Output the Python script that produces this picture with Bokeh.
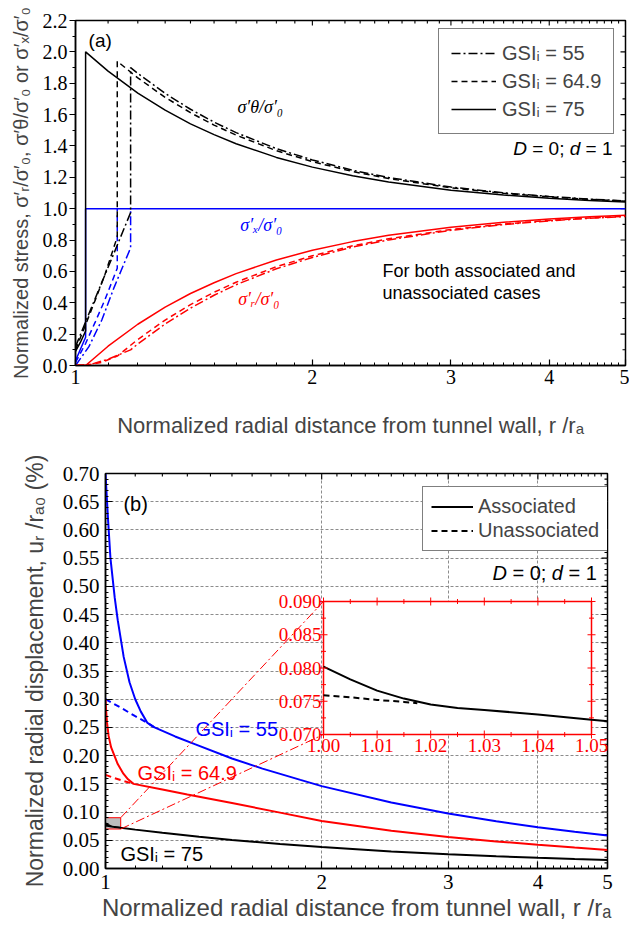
import numpy as np
from bokeh.plotting import figure
from bokeh.layouts import column
from bokeh.models import (FixedTicker, PrintfTickFormatter, Range1d, LinearScale,
                          Legend, LegendItem, Label, Arrow)
from bokeh.embed import file_html
from bokeh.resources import INLINE
from bokeh.core.properties import value

# ====================== DATA: panel (a) normalized stresses ======================
# GSI_i = 75 (solid)
A75_THETA_R = [1.0, 1.015, 1.03, 1.03, 1.1, 1.2, 1.3, 1.4, 1.5, 1.6, 1.8, 2.0, 2.25, 2.5, 3.0, 3.5, 4.0, 4.5, 5.0]
A75_THETA = [0.09, 0.15, 0.22, 2.00, 1.877, 1.737, 1.628, 1.541, 1.472, 1.414, 1.327, 1.265, 1.210, 1.170, 1.118, 1.087, 1.066, 1.052, 1.042]
A75_RAD_R = [1.0, 1.03, 1.1, 1.2, 1.3, 1.4, 1.5, 1.6, 1.8, 2.0, 2.25, 2.5, 3.0, 3.5, 4.0, 4.5, 5.0]
A75_RAD = [0.0, 0.0, 0.123, 0.263, 0.372, 0.459, 0.528, 0.586, 0.673, 0.735, 0.790, 0.830, 0.882, 0.913, 0.934, 0.948, 0.958]
A75_AX_R = [1.0, 1.03, 1.03, 5.0]
A75_AX = [0.03, 0.18, 1.0, 1.0]

# GSI_i = 64.9 (dashed)
A649_THETA_R = [1.0, 1.03, 1.06, 1.09, 1.13, 1.13, 1.2, 1.3, 1.4, 1.5, 1.6, 1.8, 2.0, 2.25, 2.5, 3.0, 3.5, 4.0, 4.5, 5.0]
A649_THETA = [0.10, 0.26, 0.42, 0.58, 0.82, 1.94, 1.834, 1.710, 1.612, 1.533, 1.469, 1.370, 1.300, 1.237, 1.192, 1.133, 1.098, 1.075, 1.059, 1.048]
A649_RAD_R = [1.0, 1.04, 1.08, 1.13, 1.2, 1.3, 1.4, 1.5, 1.6, 1.8, 2.0, 2.25, 2.5, 3.0, 3.5, 4.0, 4.5, 5.0]
A649_RAD = [0.0, 0.005, 0.02, 0.06, 0.166, 0.290, 0.388, 0.467, 0.531, 0.630, 0.700, 0.763, 0.808, 0.867, 0.902, 0.925, 0.941, 0.952]
A649_AX_R = [1.0, 1.03, 1.06, 1.09, 1.13, 1.13]
A649_AX = [0.02, 0.14, 0.28, 0.42, 0.62, 1.0]

# GSI_i = 55 (dash-dot)
A55_THETA_R = [1.0, 1.04, 1.08, 1.12, 1.175, 1.175, 1.2, 1.3, 1.4, 1.5, 1.6, 1.8, 2.0, 2.25, 2.5, 3.0, 3.5, 4.0, 4.5, 5.0]
A55_THETA = [0.12, 0.33, 0.53, 0.72, 0.975, 1.90, 1.863, 1.735, 1.634, 1.552, 1.485, 1.383, 1.311, 1.245, 1.199, 1.138, 1.101, 1.078, 1.061, 1.050]
A55_RAD_R = [1.0, 1.05, 1.10, 1.175, 1.2, 1.3, 1.4, 1.5, 1.6, 1.8, 2.0, 2.25, 2.5, 3.0, 3.5, 4.0, 4.5, 5.0]
A55_RAD = [0.0, 0.01, 0.04, 0.10, 0.137, 0.265, 0.366, 0.448, 0.515, 0.617, 0.689, 0.755, 0.801, 0.862, 0.899, 0.922, 0.939, 0.950]
A55_AX_R = [1.0, 1.04, 1.08, 1.12, 1.175, 1.175]
A55_AX = [0.0, 0.12, 0.29, 0.50, 0.75, 1.0]

# ====================== DATA: panel (b) radial displacement ======================
B55_ASSOC_R = [1.0, 1.004, 1.008, 1.016, 1.03, 1.04, 1.06, 1.08, 1.10, 1.12, 1.144, 1.17, 1.25, 1.334, 1.5, 1.654, 1.868, 2.0, 2.5, 3.0, 3.5, 4.0, 4.5, 5.0]
B55_ASSOC = [0.70, 0.66, 0.62, 0.55, 0.48, 0.44, 0.375, 0.33, 0.30, 0.278, 0.258, 0.250, 0.234, 0.220, 0.195, 0.177, 0.157, 0.146, 0.117, 0.0975, 0.0836, 0.0731, 0.065, 0.0585]
B55_UNASSOC_R = [1.0, 1.05, 1.10, 1.144, 1.17]
B55_UNASSOC = [0.300, 0.285, 0.270, 0.258, 0.250]

B649_ASSOC_R = [1.0, 1.002, 1.005, 1.01, 1.018, 1.026, 1.04, 1.059, 1.075, 1.094, 1.2, 1.3, 1.5, 1.75, 2.0, 2.5, 3.0, 3.5, 4.0, 4.5, 5.0]
B649_ASSOC = [0.300, 0.280, 0.258, 0.235, 0.215, 0.204, 0.185, 0.168, 0.158, 0.150, 0.140, 0.131, 0.116, 0.099, 0.084, 0.067, 0.056, 0.048, 0.042, 0.037, 0.033]
B649_UNASSOC_R = [1.0, 1.03, 1.06, 1.094]
B649_UNASSOC = [0.166, 0.160, 0.155, 0.150]

B75_ASSOC_R = [1.0, 1.005, 1.01, 1.015, 1.02, 1.025, 1.03, 1.04, 1.05, 1.1, 1.2, 1.35, 1.5, 1.75, 2.0, 2.5, 3.0, 3.5, 4.0, 4.5, 5.0]
B75_ASSOC = [0.0802, 0.0783, 0.0766, 0.0754, 0.0745, 0.0740, 0.0737, 0.0730, 0.0722, 0.0689, 0.0632, 0.0562, 0.0505, 0.0433, 0.0379, 0.0303, 0.0253, 0.0217, 0.0190, 0.0168, 0.0152]
B75_UNASSOC_R = [1.0, 1.005, 1.01, 1.015, 1.0175]
B75_UNASSOC = [0.0759, 0.0756, 0.0752, 0.0749, 0.0747]

# axis limits and ticks
X_LIM = [1, 5]
YA_LIM = [0.0, 2.2]
YB_LIM = [0.0, 0.70]
X_TICKS = [1, 2, 3, 4, 5]
X_MINOR = [1.1, 1.2, 1.3, 1.4, 1.5, 1.6, 1.7, 1.8, 1.9, 2.1, 2.2, 2.3, 2.4, 2.5, 2.6, 2.7, 2.8, 2.9,
           3.1, 3.2, 3.3, 3.4, 3.5, 3.6, 3.7, 3.8, 3.9, 4.1, 4.2, 4.3, 4.4, 4.5, 4.6, 4.7, 4.8, 4.9]
YA_TICKS = [0.0, 0.2, 0.4, 0.6, 0.8, 1.0, 1.2, 1.4, 1.6, 1.8, 2.0, 2.2]
YA_MINOR = [0.1, 0.3, 0.5, 0.7, 0.9, 1.1, 1.3, 1.5, 1.7, 1.9, 2.1]
YB_TICKS = [0.00, 0.05, 0.10, 0.15, 0.20, 0.25, 0.30, 0.35, 0.40, 0.45, 0.50, 0.55, 0.60, 0.65, 0.70]
YB_MINOR = [round(0.01 * i, 2) for i in range(71) if i % 5 != 0]
XB_GRID = [2, 3, 4]
YB_GRID = [0.05, 0.10, 0.15, 0.20, 0.25, 0.30, 0.35, 0.40, 0.45, 0.50, 0.55, 0.60, 0.65]

# inset
INSET_XLIM = [1.00, 1.05]
INSET_YLIM = [0.070, 0.090]
INSET_XT = [1.00, 1.01, 1.02, 1.03, 1.04, 1.05]
INSET_XT_LABELS = ["1.00", "1.01", "1.02", "1.03", "1.04", "1.05"]
INSET_XT_MINOR = [1.005, 1.015, 1.025, 1.035, 1.045]
INSET_YT = [0.070, 0.075, 0.080, 0.085, 0.090]
INSET_YT_LABELS = ["0.070", "0.075", "0.080", "0.085", "0.090"]
INSET_YT_MINOR = [0.0725, 0.0775, 0.0825, 0.0875]

RED = "#ff0000"
BLUE = "#0000ff"
BLACK = "#000000"
SANS = "Liberation Sans"
SERIF = "Liberation Serif"
DASH = "6 4"
DASHDOT = "9 3 2 3"


def style_axis(ax, size, tick_in, tick_out, standoff=4):
    ax.axis_line_width = 1.5
    ax.axis_line_color = BLACK
    ax.major_tick_line_width = 1.2
    ax.minor_tick_line_width = 1.0
    ax.major_tick_in = tick_in
    ax.major_tick_out = tick_out
    ax.minor_tick_in = tick_in // 2 if tick_in else 0
    ax.minor_tick_out = tick_out // 2 if tick_out else 0
    ax.major_label_text_font = SERIF
    ax.major_label_text_font_size = size
    ax.major_label_text_color = BLACK
    ax.major_label_standoff = standoff


def edge_ticks(p, xlim, ylim, xt, xm, yt, ym, major=12, minor=6):
    # tick marks on the top and right frame edges (half of each mark is clipped by the frame)
    for xs, sz in ((xt, major), (xm, minor)):
        p.scatter(xs, [ylim[1]] * len(xs), marker="dash", angle=np.pi / 2, size=sz,
                  line_color=BLACK, line_width=1.1)
    for ys, sz in ((yt, major), (ym, minor)):
        p.scatter([xlim[1]] * len(ys), ys, marker="dash", size=sz, line_color=BLACK, line_width=1.1)


def lab(p, x, y, text, color=BLACK, font=SANS, size="19px", style="normal", align="left",
        bg=None, dx=0):
    kw = dict(x=x, y=y, text=text, text_color=color, text_font=font, text_font_size=size,
              text_font_style=style, text_align=align, text_baseline="middle", x_offset=dx)
    if bg:
        kw["background_fill_color"] = bg
    p.add_layout(Label(**kw))


def d_label(p, x, y, px):
    # "D = 0; d = 1" with italic D and d; offsets in em of Liberation Sans
    parts = [("D", "italic", 0.0), ("= 0;", "normal", 1.0), ("d", "italic", 2.974), ("= 1", "normal", 3.808)]
    for t, st, em in parts:
        lab(p, x, y, t, size=f"{px}px", style=st, dx=em * px)


# ====================== PANEL (a) ======================
pa = figure(x_axis_type="log", x_range=Range1d(*X_LIM), y_range=Range1d(*YA_LIM),
            frame_width=550, frame_height=345, frame_align=False,
            min_border_left=75, min_border_right=4, min_border_top=20, min_border_bottom=85,
            toolbar_location=None, output_backend="svg",
            outline_line_color=BLACK, outline_line_width=1.5)
pa.grid.visible = False

xa = pa.xaxis[0]
xa.ticker = FixedTicker(ticks=X_TICKS, minor_ticks=X_MINOR)
xa.formatter = PrintfTickFormatter(format="%d")
style_axis(xa, "20px", 6, 0, standoff=4)
xa.axis_label = "Normalized radial distance from tunnel wall, r /rₐ"
xa.axis_label_text_font = SANS
xa.axis_label_text_font_style = "normal"
xa.axis_label_text_font_size = "22px"
xa.axis_label_standoff = 26

ya = pa.yaxis[0]
ya.ticker = FixedTicker(ticks=YA_TICKS, minor_ticks=YA_MINOR)
ya.formatter = PrintfTickFormatter(format="%.1f")
style_axis(ya, "20px", 0, 6, standoff=2)
ya.axis_label = "Normalized stress, σ′ᵣ/σ′₀, σ′θ/σ′₀ or σ′ₓ/σ′₀"
ya.axis_label_text_font = SANS
ya.axis_label_text_font_style = "normal"
ya.axis_label_text_font_size = "20px"
ya.axis_label_standoff = 8

edge_ticks(pa, X_LIM, YA_LIM, X_TICKS, X_MINOR, YA_TICKS, YA_MINOR, major=10, minor=6)

LWA = 1.5
# sigma_x (blue)
pa.line(A55_AX_R, A55_AX, line_color=BLUE, line_width=LWA, line_dash=DASHDOT)
pa.line(A649_AX_R, A649_AX, line_color=BLUE, line_width=LWA, line_dash=DASH)
pa.line(A75_AX_R, A75_AX, line_color=BLUE, line_width=LWA)
# sigma_r (red)
pa.line(A55_RAD_R, A55_RAD, line_color=RED, line_width=LWA, line_dash=DASHDOT)
pa.line(A649_RAD_R, A649_RAD, line_color=RED, line_width=LWA, line_dash=DASH)
pa.line(A75_RAD_R, A75_RAD, line_color=RED, line_width=LWA)
# sigma_theta (black)
r55 = pa.line(A55_THETA_R, A55_THETA, line_color=BLACK, line_width=LWA, line_dash=DASHDOT)
r649 = pa.line(A649_THETA_R, A649_THETA, line_color=BLACK, line_width=LWA, line_dash=DASH)
r75 = pa.line(A75_THETA_R, A75_THETA, line_color=BLACK, line_width=LWA)

leg_a = Legend(items=[LegendItem(label="GSIᵢ = 55", renderers=[r55]),
                      LegendItem(label="GSIᵢ = 64.9", renderers=[r649]),
                      LegendItem(label="GSIᵢ = 75", renderers=[r75])],
               location=(363, 231), label_text_font=SANS, label_text_font_size="20px",
               glyph_width=45, glyph_height=24, label_height=24, label_standoff=6,
               padding=12, spacing=4, margin=0, border_line_color=BLACK, border_line_width=1,
               background_fill_color="white", background_fill_alpha=1.0)
pa.add_layout(leg_a)

lab(pa, 1.039, 2.072, "(a)", size="19px")
lab(pa, 1.606, 1.648, "σ′θ/σ′₀", font=SERIF, size="18px", style="italic")
lab(pa, 1.62, 0.893, "σ′ₓ/σ′₀", color=BLUE, font=SERIF, size="18px", style="italic")
lab(pa, 1.61, 0.421, "σ′ᵣ/σ′₀", color=RED, font=SERIF, size="18px", style="italic")
d_label(pa, 3.60, 1.384, 19)
lab(pa, 2.455, 0.603, "For both associated and", size="18px")
lab(pa, 2.455, 0.462, "unassociated cases", size="18px")

# ====================== PANEL (b) ======================
FBW, FBH = 502, 395
pb = figure(x_axis_type="log", x_range=Range1d(*X_LIM), y_range=Range1d(*YB_LIM),
            frame_width=FBW, frame_height=FBH, frame_align=False,
            min_border_left=105, min_border_right=22, min_border_top=23, min_border_bottom=64,
            toolbar_location=None, output_backend="svg",
            outline_line_color=BLACK, outline_line_width=1.5)

xb = pb.xaxis[0]
xb.ticker = FixedTicker(ticks=X_TICKS, minor_ticks=X_MINOR)
xb.formatter = PrintfTickFormatter(format="%d")
style_axis(xb, "21px", 7, 0, standoff=6)
xb.axis_label = "Normalized radial distance from tunnel wall, r /rₐ"
xb.axis_label_text_font = SANS
xb.axis_label_text_font_style = "normal"
xb.axis_label_text_font_size = "24px"
xb.axis_label_standoff = 2

yb = pb.yaxis[0]
yb.ticker = FixedTicker(ticks=YB_TICKS, minor_ticks=YB_MINOR)
yb.formatter = PrintfTickFormatter(format="%.2f")
style_axis(yb, "21px", 7, 0, standoff=6)
yb.axis_label = "Normalized radial displacement, uᵣ /rₐ₀ (%)"
yb.axis_label_text_font = SANS
yb.axis_label_text_font_style = "normal"
yb.axis_label_text_font_size = "23px"
yb.axis_label_standoff = 12

pb.xgrid.ticker = FixedTicker(ticks=XB_GRID)
pb.ygrid.ticker = FixedTicker(ticks=YB_GRID)
for g in (pb.xgrid[0], pb.ygrid[0]):
    g.grid_line_color = "#8c8c8c"
    g.grid_line_dash = "3 2"
    g.grid_line_width = 1

edge_ticks(pb, X_LIM, YB_LIM, X_TICKS, X_MINOR, YB_TICKS, YB_MINOR, major=12, minor=6)

LWB = 2
# zoom rectangle on the main axes
pb.quad(left=[INSET_XLIM[0]], right=[INSET_XLIM[1]], bottom=[INSET_YLIM[0]], top=[INSET_YLIM[1]],
        fill_color="#bdbdbd", line_color=RED, line_width=1)

pb.line(B55_ASSOC_R, B55_ASSOC, line_color=BLUE, line_width=LWB)
pb.line(B55_UNASSOC_R, B55_UNASSOC, line_color=BLUE, line_width=LWB, line_dash=DASH)
pb.line(B649_ASSOC_R, B649_ASSOC, line_color=RED, line_width=LWB)
pb.line(B649_UNASSOC_R, B649_UNASSOC, line_color=RED, line_width=LWB, line_dash=DASH)
rassoc = pb.line(B75_ASSOC_R, B75_ASSOC, line_color=BLACK, line_width=LWB)
runassoc = pb.line(B75_UNASSOC_R, B75_UNASSOC, line_color=BLACK, line_width=LWB, line_dash=DASH)

# ---- inset placed inside the frame (pixel box relative to frame bottom-left) ----
IN_L, IN_R, IN_B, IN_T = 218, 486, 134, 267
sx = (INSET_XLIM[1] - INSET_XLIM[0]) / (IN_R - IN_L)
sy = (INSET_YLIM[1] - INSET_YLIM[0]) / (IN_T - IN_B)
pb.extra_x_ranges = {"ix": Range1d(INSET_XLIM[0] - IN_L * sx, INSET_XLIM[1] + (FBW - IN_R) * sx)}
pb.extra_y_ranges = {"iy": Range1d(INSET_YLIM[0] - IN_B * sy, INSET_YLIM[1] + (FBH - IN_T) * sy)}
pb.extra_x_scales = {"ix": LinearScale()}
pb.extra_y_scales = {"iy": LinearScale()}
IK = dict(x_range_name="ix", y_range_name="iy")

pb.quad(left=[INSET_XLIM[0]], right=[INSET_XLIM[1]], bottom=[INSET_YLIM[0]], top=[INSET_YLIM[1]],
        fill_color="white", line_color=RED, line_width=1.5, **IK)
pb.line(B75_ASSOC_R, B75_ASSOC, line_color=BLACK, line_width=LWB, **IK)
pb.line(B75_UNASSOC_R, B75_UNASSOC, line_color=BLACK, line_width=LWB, line_dash=DASH, **IK)

# inset ticks
for ys in (INSET_YLIM[0], INSET_YLIM[1]):
    pb.scatter(INSET_XT, [ys] * len(INSET_XT), marker="dash", angle=np.pi / 2, size=8,
               line_color=RED, line_width=1, **IK)
    pb.scatter(INSET_XT_MINOR, [ys] * len(INSET_XT_MINOR), marker="dash", angle=np.pi / 2, size=5,
               line_color=RED, line_width=1, **IK)
for xs in (INSET_XLIM[0], INSET_XLIM[1]):
    pb.scatter([xs] * len(INSET_YT), INSET_YT, marker="dash", size=8, line_color=RED, line_width=1, **IK)
    pb.scatter([xs] * len(INSET_YT_MINOR), INSET_YT_MINOR, marker="dash", size=5,
               line_color=RED, line_width=1, **IK)
pb.text(INSET_XT, [INSET_YLIM[0]] * len(INSET_XT), text=INSET_XT_LABELS, text_align="center",
        text_baseline="top", y_offset=4, text_color=RED, text_font=value(SERIF),
        text_font_size="19px", **IK)
pb.text([INSET_XLIM[0]] * len(INSET_YT), INSET_YT, text=INSET_YT_LABELS, text_align="right",
        text_baseline="middle", x_offset=-2, text_color=RED, text_font=value(SERIF),
        text_font_size="19px", **IK)

# connectors from zoom rectangle to inset corners
pb.add_layout(Arrow(end=None, x_start=INSET_XLIM[1], y_start=INSET_YLIM[1], start_units="data",
                    x_end=IN_L, y_end=IN_T, end_units="screen",
                    line_color=RED, line_width=1, line_dash=DASHDOT))
pb.add_layout(Arrow(end=None, x_start=INSET_XLIM[1], y_start=INSET_YLIM[0], start_units="data",
                    x_end=IN_L, y_end=IN_B, end_units="screen",
                    line_color=RED, line_width=1, line_dash=DASHDOT))

leg_b = Legend(items=[LegendItem(label="Associated", renderers=[rassoc]),
                      LegendItem(label="Unassociated", renderers=[runassoc])],
               location=(317, 317), label_text_font=SANS, label_text_font_size="20px",
               glyph_width=42, glyph_height=21, label_height=21, label_standoff=5,
               padding=8, spacing=1, margin=0, border_line_color=BLACK, border_line_width=1,
               background_fill_color="white", background_fill_alpha=1.0)
pb.add_layout(leg_b)

lab(pb, 1.059, 0.646, "(b)", size="20px", bg="white")
d_label(pb, 3.457, 0.524, 20)
lab(pb, 1.334, 0.247, "GSIᵢ = 55", color=BLUE, size="20px")
lab(pb, 1.108, 0.170, "GSIᵢ = 64.9", color=RED, size="20px")
lab(pb, 1.049, 0.0257, "GSIᵢ = 75", color=BLACK, size="20px")

layout = column(pa, pb, spacing=0)
open("out.html", "w", encoding="utf-8").write(file_html(layout, INLINE))
